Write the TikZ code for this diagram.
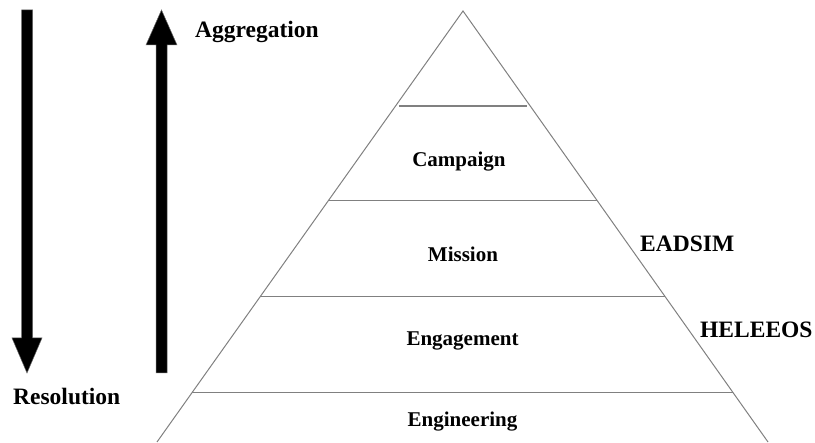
\documentclass[tikz,border=0pt]{standalone}
\usepackage{fontspec}
\setmainfont{Liberation Serif}
\begin{document}
\begin{tikzpicture}[x=1pt,y=-1pt,
  edge/.style={draw=black!50,line width=1pt},
  layer/.style={draw=black!50,line width=1pt},
  biglabel/.style={font=\fontsize{23.5}{26}\selectfont\bfseries,inner sep=0pt,anchor=base west},
  tierlabel/.style={font=\fontsize{21}{24}\selectfont\bfseries,inner sep=0pt,anchor=base},
  fatarrow/.style={fill=black,draw=black!60,line width=0.5pt}]
\useasboundingbox (0,0) rectangle (815,443);
% pyramid
\coordinate (apex) at (463,11);
\coordinate (bl) at (157,442);
\coordinate (br) at (768,442);
\draw[edge] (bl) -- (apex) -- (br);
\draw[layer,line width=1.8pt] (399,106) -- (527,106);
\draw[layer] (328,201) -- (597,201);
\draw[layer] (260,297) -- (665,297);
\draw[layer] (192,393) -- (733,393);
% tier labels
\node[tierlabel] (campaign) at (459,167) {Campaign};
\node[tierlabel] (mission) at (463,262) {Mission};
\node[tierlabel] (engagement) at (462.5,346) {Engagement};
\node[tierlabel] (engineering) at (462.5,427) {Engineering};
% side labels
\node[biglabel] (aggregation) at (195,38) {Aggregation};
\node[biglabel] (resolution) at (13,405) {Resolution};
\node[biglabel] (eadsim) at (640,252) {EADSIM};
\node[biglabel] (heleeos) at (700,338) {HELEEOS};
% down arrow
\path[fatarrow] (21.5,10) -- (32.5,10) -- (32.5,338) -- (42,338) -- (27,373) -- (12,338) -- (21.5,338) -- cycle;
% up arrow
\path[fatarrow] (156,373) -- (167,373) -- (167,45) -- (177,45) -- (161.5,10) -- (146,45) -- (156,45) -- cycle;
\end{tikzpicture}
\end{document}
